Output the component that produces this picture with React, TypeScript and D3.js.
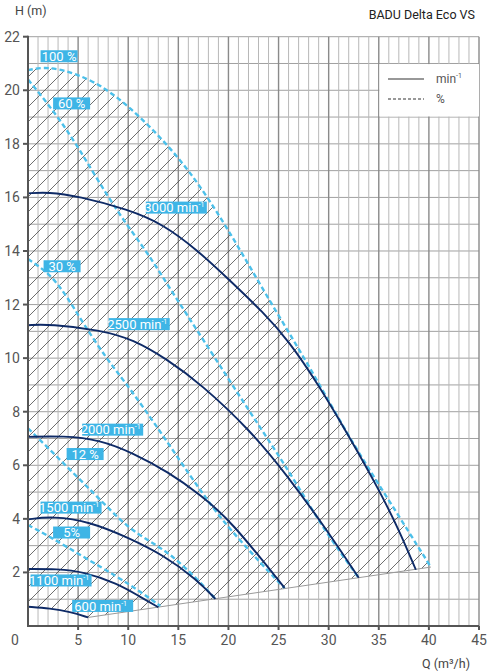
import * as d3 from 'd3';

// pump curves (Q in m³/h, H in m)
const q3000 = [0, 2, 5, 10, 13.5, 17, 20, 23.5, 26, 29, 32, 35, 37, 38.7];
const h3000 = [16.15, 16.2, 16.05, 15.55, 15.0, 14.0, 12.95, 11.7, 10.65, 9.0, 7.1, 5.1, 3.6, 2.1];
const q2500 = [0, 2.2, 7.2, 10.5, 13.9, 17.2, 22.2, 25.9, 29.7, 33];
const h2500 = [11.23, 11.27, 11.05, 10.7, 9.95, 9.05, 7.3, 5.6, 3.65, 1.8];
const q2000 = [0, 3.5, 7.2, 10.5, 14, 17.2, 20.2, 25.6];
const h2000 = [7.06, 7.1, 6.95, 6.45, 5.75, 4.9, 3.95, 1.42];
const q1500 = [0, 2.5, 6.2, 10, 13.5, 16.9, 18.7];
const h1500 = [3.98, 4.1, 3.89, 3.3, 2.65, 1.72, 1.01];
const q1100 = [0, 2.9, 5.5, 8.9, 11.2, 13];
const h1100 = [2.13, 2.13, 2.03, 1.59, 1.09, 0.7];
const q600 = [0, 2.2, 4.2, 6];
const h600 = [0.72, 0.66, 0.53, 0.32];

// power curves (% of max)
const q100 = [0, 2, 5, 8, 12, 16.2, 20, 24, 28, 32, 36, 40.2];
const h100 = [20.75, 20.9, 20.6, 20.05, 18.75, 17.0, 14.8, 12.2, 9.75, 7.05, 4.7, 2.2];
const q60 = [0, 1, 3.2, 5.2, 7.2, 9.5, 12, 14.5, 17.2, 22.2, 26.2, 29.5, 32.9];
const h60 = [20.4, 19.95, 18.9, 17.75, 16.5, 15.15, 13.9, 12.4, 10.85, 7.95, 5.7, 3.6, 1.85];
const q30 = [0, 2.2, 3.9, 5.5, 7.9, 9.5, 12.2, 14.2, 16.2, 17.9, 19.9, 24.7, 25.6];
const h30 = [13.7, 13.15, 12.3, 11.3, 9.95, 9.2, 7.8, 6.7, 5.6, 4.7, 3.7, 1.75, 1.42];
const q12 = [0, 1.9, 3.9, 5.9, 7.9, 9.9, 12.2, 13.5, 14.9, 16.9, 18.7];
const h12 = [7.38, 6.69, 5.94, 5.2, 4.45, 3.7, 3.15, 2.85, 2.45, 1.75, 1.01];
const q5 = [0, 2.2, 5.5, 8.9, 11.2, 13.2];
const h5 = [3.77, 3.33, 2.59, 1.84, 1.28, 0.75];

// lower limit of the operating range
const qLimit = [6, 40.2];
const hLimit = [0.32, 2.2];

const speedNames = ['3000', '2500', '2000', '1500', '1100', '600'];
const speedQ = [q3000, q2500, q2000, q1500, q1100, q600];
const speedH = [h3000, h2500, h2000, h1500, h1100, h600];
// label anchors (Q, H)
const speedLabelQ = [14.8, 11.1, 8.45, 4.3, 3.3, 7.45];
const speedLabelH = [15.62, 11.27, 7.33, 4.42, 1.7, 0.75];

const pctNames = ['100 %', '60 %', '30 %', '12 %', '5%'];
const pctQ = [q100, q60, q30, q12, q5];
const pctH = [h100, h60, h30, h12, h5];
const pctLabelQ = [3.1, 4.35, 3.4, 5.7, 4.35];
const pctLabelH = [21.27, 19.51, 13.43, 6.42, 3.49];

const xTicks = [5, 10, 15, 20, 25, 30, 35, 40, 45];
const yTicks = [2, 4, 6, 8, 10, 12, 14, 16, 18, 20, 22];

const W = 487;
const H = 672;
const font = 'Roboto, "Open Sans", sans-serif';
const navy = '#0e2a66';
const sky = '#4cc0ea';
const tag = '#3eb5e6';

type Pt = [number, number];
const zip = (a: number[], b: number[]): Pt[] => a.map((v, i) => [v, b[i]]);

export default function App() {
  const x = d3.scaleLinear().domain([0, 45]).range([28, 479]);
  const y = d3.scaleLinear().domain([0, 22]).range([626, 36.7]);
  // basis keeps the read-off points smooth, the ends stay exact
  const line = d3
    .line<Pt>()
    .x((d) => x(d[0]))
    .y((d) => y(d[1]))
    .curve(d3.curveBasis);

  // hatched operating area: 100% curve, lower limit, 600 curve back to the axis
  const top = line(zip(q100, h100)) ?? '';
  const back = (line(zip(q600, h600).reverse()) ?? '').replace(/^M/, 'L');
  const area = `${top}L${x(qLimit[0])},${y(hLimit[0])}${back}Z`;

  const gridQ = d3.range(1, 46);
  const gridH = d3.range(1, 23);

  return (
    <div style={{ position: 'absolute', left: 0, top: 0 }}>
      <svg width={W} height={H} style={{ display: 'block', background: '#fff' }}>
        <defs>
          <pattern id="hatch" patternUnits="userSpaceOnUse" width="15" height="15">
            <path d="M-1,1 l2,-2 M0,15 l15,-15 M14,16 l2,-2" stroke="#4a4a4a" strokeWidth="0.8" />
          </pattern>
        </defs>

        {/* grid */}
        {gridH.map((v) => (
          <line key={'h' + v} x1={x(0)} x2={x(45)} y1={y(v)} y2={y(v)} stroke="#a0a0a0" strokeWidth={1} />
        ))}
        {gridQ.map((v) => (
          <line
            key={'v' + v}
            x1={x(v)}
            x2={x(v)}
            y1={y(0)}
            y2={y(22)}
            stroke={v % 5 === 0 ? '#8a8a8a' : '#b8b8b8'}
            strokeWidth={v % 5 === 0 ? 1.4 : 1}
          />
        ))}

        {/* legend box */}
        <rect x={x(35) + 0.6} y={y(21) + 0.6} width={x(45) - x(35) - 0.6} height={y(19) - y(21) - 1.2} fill="#fff" />
        <line x1={388} x2={424} y1={79} y2={79} stroke="#333" strokeWidth={1.2} />
        <line x1={388} x2={424} y1={99} y2={99} stroke="#333" strokeWidth={1.2} strokeDasharray="3 2" />
        <text x={436} y={83} fontFamily={font} fontSize={12} fill="#555">
          min<tspan fontSize={7} dy={-5}>-1</tspan>
        </text>
        <text x={436} y={103} fontFamily={font} fontSize={12} fill="#555">
          %
        </text>

        {/* operating range */}
        <path d={area} fill="url(#hatch)" stroke="none" />
        <line
          x1={x(qLimit[0])}
          x2={x(qLimit[1])}
          y1={y(hLimit[0])}
          y2={y(hLimit[1])}
          stroke="#9a9a9a"
          strokeWidth={1}
        />

        {pctNames.map((n, i) => (
          <path
            key={'p' + n}
            d={line(zip(pctQ[i], pctH[i])) ?? ''}
            fill="none"
            stroke={sky}
            strokeWidth={2.4}
            strokeDasharray="5 3"
          />
        ))}
        {speedNames.map((n, i) => (
          <path key={'s' + n} d={line(zip(speedQ[i], speedH[i])) ?? ''} fill="none" stroke={navy} strokeWidth={1.9} />
        ))}

        {/* axes */}
        <line x1={x(0)} x2={x(0)} y1={y(22) - 1} y2={y(0)} stroke="#555" strokeWidth={2} />
        <line x1={x(0) - 1} x2={x(45)} y1={y(0)} y2={y(0)} stroke="#555" strokeWidth={2} />
        {yTicks.map((t) => (
          <g key={'yt' + t}>
            <line x1={x(0) - 5} x2={x(0)} y1={y(t)} y2={y(t)} stroke="#555" strokeWidth={2} />
            <text
              x={20}
              y={y(t)}
              textAnchor="end"
              dominantBaseline="central"
              fontFamily={font}
              fontSize={14}
              fill="#555"
            >
              {t}
            </text>
          </g>
        ))}
        {xTicks.map((t) => (
          <g key={'xt' + t}>
            <line x1={x(t)} x2={x(t)} y1={y(0)} y2={y(0) + 4} stroke="#555" strokeWidth={2} />
            <text x={x(t)} y={640} textAnchor="middle" dominantBaseline="central" fontFamily={font} fontSize={14} fill="#555">
              {t}
            </text>
          </g>
        ))}
        <text x={15} y={640} textAnchor="middle" dominantBaseline="central" fontFamily={font} fontSize={14} fill="#555">
          0
        </text>

        {/* curve tags */}
        {pctNames.map((n, i) => (
          <g key={'pl' + n} transform={`translate(${x(pctLabelQ[i])},${y(pctLabelH[i])})`}>
            <rect x={-18.5} y={-6} width={37} height={12} fill={tag} />
            <text textAnchor="middle" dominantBaseline="central" fontFamily={font} fontSize={13} fill="#fff">
              {n}
            </text>
          </g>
        ))}
        {speedNames.map((n, i) => (
          <g key={'sl' + n} transform={`translate(${x(speedLabelQ[i])},${y(speedLabelH[i])})`}>
            <rect x={-30.5} y={-6} width={61} height={12} fill={tag} />
            <text x={-2} y={4.8} textAnchor="middle" fontFamily={font} fontSize={13} fill="#fff">
              {n} min<tspan fontSize={7} dy={-5}>-1</tspan>
            </text>
          </g>
        ))}

        {/* titles */}
        <text x={15} y={15} fontFamily={font} fontSize={12.5} fill="#444">
          H (m)
        </text>
        <text x={475} y={19} textAnchor="end" fontFamily={font} fontSize={12.5} fill="#222">
          BADU Delta Eco VS
        </text>
        <text x={470} y={668} textAnchor="end" fontFamily={font} fontSize={12.5} fill="#444">
          Q (m³/h)
        </text>
      </svg>
    </div>
  );
}
